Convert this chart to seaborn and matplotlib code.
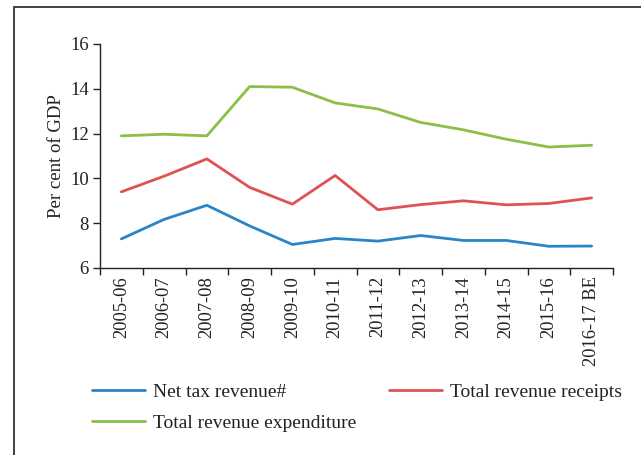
import matplotlib
matplotlib.use("Agg")
import matplotlib.pyplot as plt
import seaborn as sns
import pandas as pd
import numpy as np
from matplotlib.patches import Rectangle
from matplotlib.lines import Line2D

years = ["2005-06", "2006-07", "2007-08", "2008-09", "2009-10", "2010-11",
         "2011-12", "2012-13", "2013-14", "2014-15", "2015-16", "2016-17 BE"]
net_tax = [7.3, 8.17, 8.8, 7.88, 7.05, 7.32, 7.2, 7.45, 7.23, 7.23, 6.97, 6.98]
total_receipts = [9.4, 10.1, 10.87, 9.6, 8.85, 10.13, 8.6, 8.83, 9.0, 8.82, 8.88, 9.13]
total_expenditure = [11.9, 11.97, 11.9, 14.1, 14.07, 13.37, 13.1, 12.5, 12.17, 11.75, 11.4, 11.48]
series_names = ["Net tax revenue#", "Total revenue receipts", "Total revenue expenditure"]
colors = ["#2A85C6", "#E05252", "#8CBF46"]

sns.set_theme(style="white")
plt.rcParams["font.family"] = ["Liberation Serif", "DejaVu Serif"]

rows = []
for name, vals in zip(series_names, [net_tax, total_receipts, total_expenditure]):
    for i, v in enumerate(vals):
        rows.append({"idx": i, "value": v, "series": name})
df = pd.DataFrame(rows)

fig = plt.figure(figsize=(6.41, 4.55), dpi=100)
ax = fig.add_axes([100/641, 1-268/455, (613-100)/641, (268-44)/455])

sns.lineplot(data=df, x="idx", y="value", hue="series", palette=colors,
             hue_order=series_names, linewidth=2.0, ax=ax, legend=False)

ax.set_xlim(-0.5, len(years)-0.5)
ax.set_ylim(6, 16)
ax.set_yticks([6, 8, 10, 12, 14, 16])
ax.set_xticks(np.arange(-0.5, len(years), 1.0))
ax.set_xticklabels([])
ax.set_xticks(np.arange(len(years)), minor=True)
ax.set_xticklabels(years, minor=True, rotation=90, fontsize=13.3, color="#222222")
ax.tick_params(axis="x", which="major", direction="out", length=5, width=1, color="#222222", bottom=True)
ax.tick_params(axis="x", which="minor", length=0, pad=6)
ax.tick_params(axis="y", direction="out", length=5, width=1, color="#222222", left=True,
               labelsize=13.5, labelcolor="#222222", pad=3)
ax.set_xlabel("")
ax.set_ylabel("Per cent of GDP", fontsize=13.5, color="#222222", labelpad=4)
for s in ["top", "right"]:
    ax.spines[s].set_visible(False)
for s in ["left", "bottom"]:
    ax.spines[s].set_color("#222222")
    ax.spines[s].set_linewidth(1.0)

# outer frame (extends beyond the image on the right and bottom)
fig.patches.append(Rectangle((14/641, -0.2), 1.2, 1.2 - 7/455, transform=fig.transFigure,
                             fill=False, edgecolor="#333333", linewidth=1.3))

fs = 14.0
fpx = fs * 100/72
handles = [Line2D([], [], color=colors[0], lw=2.0),
           Line2D([], [], color=colors[2], lw=2.0),
           Line2D([], [], color=colors[1], lw=2.0)]
labels = [series_names[0], series_names[2], series_names[1]]
fig.legend(handles, labels, loc="upper left", bbox_to_anchor=(92/641, 1-383/455),
           ncol=2, frameon=False, fontsize=fs, borderpad=0, borderaxespad=0,
           handlelength=53/fpx, handletextpad=8/fpx, columnspacing=33/fpx,
           labelspacing=(33-fpx)/fpx, labelcolor="#222222")

fig.savefig("out.png", dpi=100)
